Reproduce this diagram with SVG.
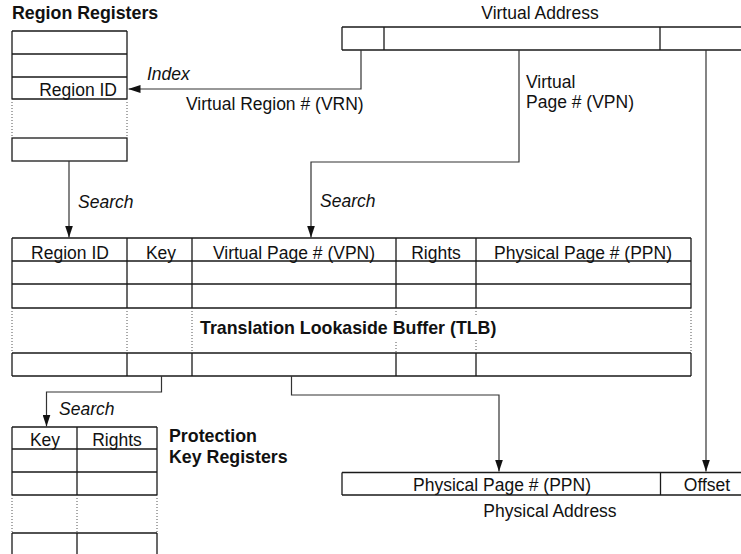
<svg xmlns="http://www.w3.org/2000/svg" width="741" height="554" viewBox="0 0 741 554">
<style>
  text { font-family: "Liberation Sans", Arial, Helvetica, sans-serif; font-size: 17.5px; fill: #111; }
  .b { font-weight: bold; font-size: 17.8px; }
  .i { font-style: italic; }
  .c { text-anchor: middle; }
  .e { text-anchor: end; }
  .box { fill: none; stroke: #1a1a1a; stroke-width: 1.3; }
  .ln { fill: none; stroke: #1a1a1a; stroke-width: 1.3; }
  .dot { fill: none; stroke: #555; stroke-width: 1; stroke-dasharray: 1 2; }
  .conn { fill: none; stroke: #333; stroke-width: 1.2; }
</style>
<defs>
  <marker id="ah" viewBox="0 0 12 8" refX="12" refY="4" markerWidth="12" markerHeight="8" orient="auto" markerUnits="userSpaceOnUse">
    <path d="M0,0 L12,4 L0,8 z" fill="#111"/>
  </marker>
</defs>
<rect x="0" y="0" width="741" height="554" fill="#fff"/>

<g id="region-registers">
  <text class="b" x="12" y="19">Region Registers</text>
  <path class="ln" d="M12,31 H127 M12,54 H127 M12,77 H127 M12,99 H127 M12,31 V99 M127,31 V99"/>
  <path class="dot" d="M12,99 V138 M127,99 V138"/>
  <rect class="box" x="12" y="138" width="115" height="23"/>
  <text class="e" x="117" y="95.5">Region ID</text>
</g>

<g id="virtual-address">
  <text class="c" x="540" y="19">Virtual Address</text>
  <path class="ln" d="M342,27 H741 M342,50 H741 M342,27 V50 M384,27 V50 M660,27 V50"/>
</g>

<g id="tlb">
  <path class="ln" d="M12,238 H691 M12,261 H691 M12,284 H691 M12,308 H691 M12,353 H691 M12,376 H691"/>
  <path class="ln" d="M12,238 V308 M127,238 V308 M192,238 V308 M396,238 V308 M476,238 V308 M691,238 V308"/>
  <path class="ln" d="M12,353 V376 M127,353 V376 M192,353 V376 M396,353 V376 M476,353 V376 M691,353 V376"/>
  <path class="dot" d="M12,308 V353 M127,308 V353 M192,308 V353 M691,308 V353 M396,308 V315 M396,342 V353 M476,308 V316 M476,340 V353"/>
  <text class="c" x="70" y="259">Region ID</text>
  <text class="c" x="161" y="259">Key</text>
  <text class="c" x="294" y="259">Virtual Page # (VPN)</text>
  <text class="c" x="436" y="259">Rights</text>
  <text class="c" x="583" y="259">Physical Page # (PPN)</text>
  <text class="b" x="200" y="334">Translation Lookaside Buffer (TLB)</text>
</g>

<g id="protection-key-registers">
  <path class="ln" d="M12,427 H157 M12,449 H157 M12,472 H157 M12,495 H157 M12,427 V495 M77,427 V495 M157,427 V495"/>
  <path class="dot" d="M12,495 V533 M77,495 V533 M157,495 V533"/>
  <path class="ln" d="M12,533 H157 M12,533 V556 M77,533 V556 M157,533 V556 M12,556 H157"/>
  <text class="c" x="45" y="446">Key</text>
  <text class="c" x="117" y="446">Rights</text>
  <text class="b" x="169" y="442">Protection</text>
  <text class="b" x="169" y="463">Key Registers</text>
</g>

<g id="physical-address">
  <path class="ln" d="M342,472.5 H741 M342,495 H741 M342,472.5 V495 M660.5,472.5 V495"/>
  <text class="c" x="502" y="491">Physical Page # (PPN)</text>
  <text class="c" x="707" y="491">Offset</text>
  <text class="c" x="550" y="517">Physical Address</text>
</g>

<g id="connectors">
  <path class="conn" d="M361,50 V89 H128.5" marker-end="url(#ah)"/>
  <path class="conn" d="M519,50 V162 H311 V237.5" marker-end="url(#ah)"/>
  <path class="conn" d="M706,50 V471.5" marker-end="url(#ah)"/>
  <path class="conn" d="M69,161 V237.5" marker-end="url(#ah)"/>
  <path class="conn" d="M161.5,376 V392 H46.5 V426.5" marker-end="url(#ah)"/>
  <path class="conn" d="M291.5,376 V395 H499 V471.5" marker-end="url(#ah)"/>
  <text class="i" x="147" y="80">Index</text>
  <text x="186" y="110">Virtual Region # (VRN)</text>
  <text x="526" y="88">Virtual</text>
  <text x="526" y="108">Page # (VPN)</text>
  <text class="i" x="78" y="208">Search</text>
  <text class="i" x="320" y="207">Search</text>
  <text class="i" x="59" y="415">Search</text>
</g>
</svg>
